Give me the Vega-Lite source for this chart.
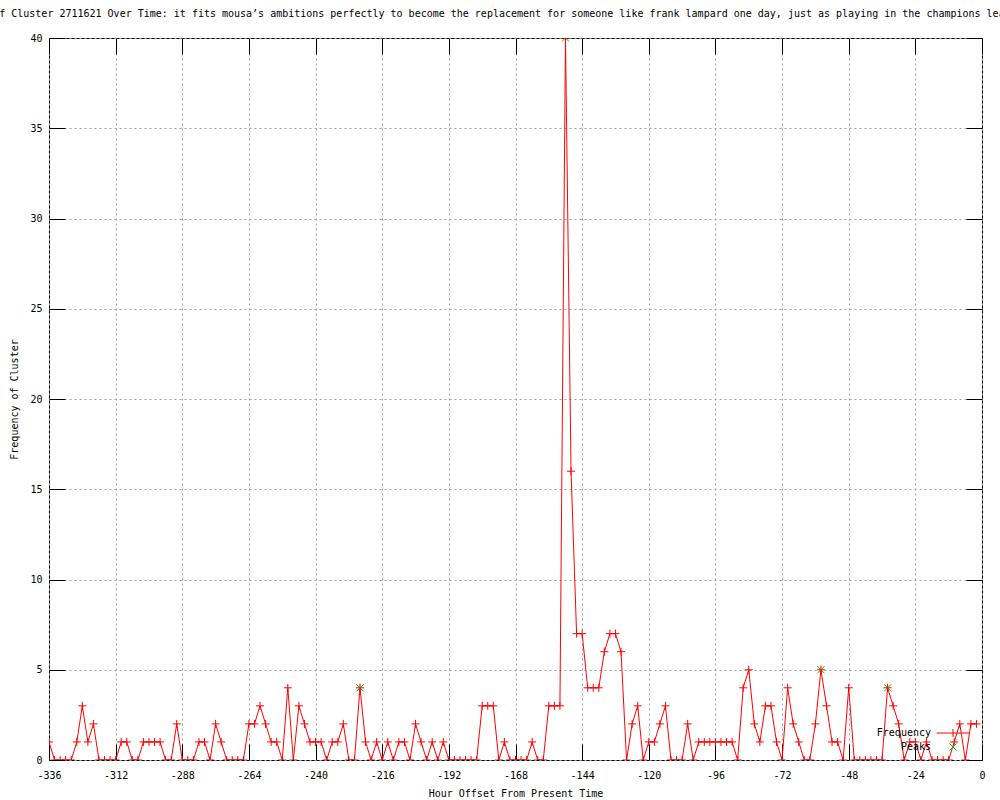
{
  "$schema": "https://vega.github.io/schema/vega-lite/v6.json",
  "width": 933,
  "height": 722,
  "autosize": {"type": "none"},
  "padding": {"left": 49, "top": 38, "right": 18, "bottom": 40},
  "background": "white",
  "title": {
    "text": "Frequency of Cluster 2711621 Over Time: it fits mousa’s ambitions perfectly to become the replacement for someone like frank lampard one day, just as playing in the champions league",
    "anchor": "start", "frame": "group", "dx": -116, "offset": 14,
    "font": "DejaVu Sans Mono", "fontSize": 10, "fontWeight": "normal", "color": "black"
  },
  "config": {
    "view": {"stroke": "black", "strokeWidth": 1},
    "font": "DejaVu Sans Mono",
    "axis": {
      "labelFont": "DejaVu Sans Mono", "labelFontSize": 10, "labelColor": "black",
      "titleFont": "DejaVu Sans Mono", "titleFontSize": 10, "titleFontWeight": "normal", "titleColor": "black",
      "gridColor": "#a0a0a0", "gridDash": [2, 3], "gridWidth": 1, "gridOpacity": 1,
      "tickColor": "black", "tickWidth": 1, "domain": false
    }
  },
  "data": {
    "values": [
      {"hour": -336, "frequency": 1, "series": "Frequency"},
      {"hour": -334, "frequency": 0, "series": "Frequency"},
      {"hour": -332, "frequency": 0, "series": "Frequency"},
      {"hour": -330, "frequency": 0, "series": "Frequency"},
      {"hour": -328, "frequency": 0, "series": "Frequency"},
      {"hour": -326, "frequency": 1, "series": "Frequency"},
      {"hour": -324, "frequency": 3, "series": "Frequency"},
      {"hour": -322, "frequency": 1, "series": "Frequency"},
      {"hour": -320, "frequency": 2, "series": "Frequency"},
      {"hour": -318, "frequency": 0, "series": "Frequency"},
      {"hour": -316, "frequency": 0, "series": "Frequency"},
      {"hour": -314, "frequency": 0, "series": "Frequency"},
      {"hour": -312, "frequency": 0, "series": "Frequency"},
      {"hour": -310, "frequency": 1, "series": "Frequency"},
      {"hour": -308, "frequency": 1, "series": "Frequency"},
      {"hour": -306, "frequency": 0, "series": "Frequency"},
      {"hour": -304, "frequency": 0, "series": "Frequency"},
      {"hour": -302, "frequency": 1, "series": "Frequency"},
      {"hour": -300, "frequency": 1, "series": "Frequency"},
      {"hour": -298, "frequency": 1, "series": "Frequency"},
      {"hour": -296, "frequency": 1, "series": "Frequency"},
      {"hour": -294, "frequency": 0, "series": "Frequency"},
      {"hour": -292, "frequency": 0, "series": "Frequency"},
      {"hour": -290, "frequency": 2, "series": "Frequency"},
      {"hour": -288, "frequency": 0, "series": "Frequency"},
      {"hour": -286, "frequency": 0, "series": "Frequency"},
      {"hour": -284, "frequency": 0, "series": "Frequency"},
      {"hour": -282, "frequency": 1, "series": "Frequency"},
      {"hour": -280, "frequency": 1, "series": "Frequency"},
      {"hour": -278, "frequency": 0, "series": "Frequency"},
      {"hour": -276, "frequency": 2, "series": "Frequency"},
      {"hour": -274, "frequency": 1, "series": "Frequency"},
      {"hour": -272, "frequency": 0, "series": "Frequency"},
      {"hour": -270, "frequency": 0, "series": "Frequency"},
      {"hour": -268, "frequency": 0, "series": "Frequency"},
      {"hour": -266, "frequency": 0, "series": "Frequency"},
      {"hour": -264, "frequency": 2, "series": "Frequency"},
      {"hour": -262, "frequency": 2, "series": "Frequency"},
      {"hour": -260, "frequency": 3, "series": "Frequency"},
      {"hour": -258, "frequency": 2, "series": "Frequency"},
      {"hour": -256, "frequency": 1, "series": "Frequency"},
      {"hour": -254, "frequency": 1, "series": "Frequency"},
      {"hour": -252, "frequency": 0, "series": "Frequency"},
      {"hour": -250, "frequency": 4, "series": "Frequency"},
      {"hour": -248, "frequency": 0, "series": "Frequency"},
      {"hour": -246, "frequency": 3, "series": "Frequency"},
      {"hour": -244, "frequency": 2, "series": "Frequency"},
      {"hour": -242, "frequency": 1, "series": "Frequency"},
      {"hour": -240, "frequency": 1, "series": "Frequency"},
      {"hour": -238, "frequency": 1, "series": "Frequency"},
      {"hour": -236, "frequency": 0, "series": "Frequency"},
      {"hour": -234, "frequency": 1, "series": "Frequency"},
      {"hour": -232, "frequency": 1, "series": "Frequency"},
      {"hour": -230, "frequency": 2, "series": "Frequency"},
      {"hour": -228, "frequency": 0, "series": "Frequency"},
      {"hour": -226, "frequency": 0, "series": "Frequency"},
      {"hour": -224, "frequency": 4, "series": "Frequency"},
      {"hour": -222, "frequency": 1, "series": "Frequency"},
      {"hour": -220, "frequency": 0, "series": "Frequency"},
      {"hour": -218, "frequency": 1, "series": "Frequency"},
      {"hour": -216, "frequency": 0, "series": "Frequency"},
      {"hour": -214, "frequency": 1, "series": "Frequency"},
      {"hour": -212, "frequency": 0, "series": "Frequency"},
      {"hour": -210, "frequency": 1, "series": "Frequency"},
      {"hour": -208, "frequency": 1, "series": "Frequency"},
      {"hour": -206, "frequency": 0, "series": "Frequency"},
      {"hour": -204, "frequency": 2, "series": "Frequency"},
      {"hour": -202, "frequency": 1, "series": "Frequency"},
      {"hour": -200, "frequency": 0, "series": "Frequency"},
      {"hour": -198, "frequency": 1, "series": "Frequency"},
      {"hour": -196, "frequency": 0, "series": "Frequency"},
      {"hour": -194, "frequency": 1, "series": "Frequency"},
      {"hour": -192, "frequency": 0, "series": "Frequency"},
      {"hour": -190, "frequency": 0, "series": "Frequency"},
      {"hour": -188, "frequency": 0, "series": "Frequency"},
      {"hour": -186, "frequency": 0, "series": "Frequency"},
      {"hour": -184, "frequency": 0, "series": "Frequency"},
      {"hour": -182, "frequency": 0, "series": "Frequency"},
      {"hour": -180, "frequency": 3, "series": "Frequency"},
      {"hour": -178, "frequency": 3, "series": "Frequency"},
      {"hour": -176, "frequency": 3, "series": "Frequency"},
      {"hour": -174, "frequency": 0, "series": "Frequency"},
      {"hour": -172, "frequency": 1, "series": "Frequency"},
      {"hour": -170, "frequency": 0, "series": "Frequency"},
      {"hour": -168, "frequency": 0, "series": "Frequency"},
      {"hour": -166, "frequency": 0, "series": "Frequency"},
      {"hour": -164, "frequency": 0, "series": "Frequency"},
      {"hour": -162, "frequency": 1, "series": "Frequency"},
      {"hour": -160, "frequency": 0, "series": "Frequency"},
      {"hour": -158, "frequency": 0, "series": "Frequency"},
      {"hour": -156, "frequency": 3, "series": "Frequency"},
      {"hour": -154, "frequency": 3, "series": "Frequency"},
      {"hour": -152, "frequency": 3, "series": "Frequency"},
      {"hour": -150, "frequency": 40, "series": "Frequency"},
      {"hour": -148, "frequency": 16, "series": "Frequency"},
      {"hour": -146, "frequency": 7, "series": "Frequency"},
      {"hour": -144, "frequency": 7, "series": "Frequency"},
      {"hour": -142, "frequency": 4, "series": "Frequency"},
      {"hour": -140, "frequency": 4, "series": "Frequency"},
      {"hour": -138, "frequency": 4, "series": "Frequency"},
      {"hour": -136, "frequency": 6, "series": "Frequency"},
      {"hour": -134, "frequency": 7, "series": "Frequency"},
      {"hour": -132, "frequency": 7, "series": "Frequency"},
      {"hour": -130, "frequency": 6, "series": "Frequency"},
      {"hour": -128, "frequency": 0, "series": "Frequency"},
      {"hour": -126, "frequency": 2, "series": "Frequency"},
      {"hour": -124, "frequency": 3, "series": "Frequency"},
      {"hour": -122, "frequency": 0, "series": "Frequency"},
      {"hour": -120, "frequency": 1, "series": "Frequency"},
      {"hour": -118, "frequency": 1, "series": "Frequency"},
      {"hour": -116, "frequency": 2, "series": "Frequency"},
      {"hour": -114, "frequency": 3, "series": "Frequency"},
      {"hour": -112, "frequency": 0, "series": "Frequency"},
      {"hour": -110, "frequency": 0, "series": "Frequency"},
      {"hour": -108, "frequency": 0, "series": "Frequency"},
      {"hour": -106, "frequency": 2, "series": "Frequency"},
      {"hour": -104, "frequency": 0, "series": "Frequency"},
      {"hour": -102, "frequency": 1, "series": "Frequency"},
      {"hour": -100, "frequency": 1, "series": "Frequency"},
      {"hour": -98, "frequency": 1, "series": "Frequency"},
      {"hour": -96, "frequency": 1, "series": "Frequency"},
      {"hour": -94, "frequency": 1, "series": "Frequency"},
      {"hour": -92, "frequency": 1, "series": "Frequency"},
      {"hour": -90, "frequency": 1, "series": "Frequency"},
      {"hour": -88, "frequency": 0, "series": "Frequency"},
      {"hour": -86, "frequency": 4, "series": "Frequency"},
      {"hour": -84, "frequency": 5, "series": "Frequency"},
      {"hour": -82, "frequency": 2, "series": "Frequency"},
      {"hour": -80, "frequency": 1, "series": "Frequency"},
      {"hour": -78, "frequency": 3, "series": "Frequency"},
      {"hour": -76, "frequency": 3, "series": "Frequency"},
      {"hour": -74, "frequency": 1, "series": "Frequency"},
      {"hour": -72, "frequency": 0, "series": "Frequency"},
      {"hour": -70, "frequency": 4, "series": "Frequency"},
      {"hour": -68, "frequency": 2, "series": "Frequency"},
      {"hour": -66, "frequency": 1, "series": "Frequency"},
      {"hour": -64, "frequency": 0, "series": "Frequency"},
      {"hour": -62, "frequency": 0, "series": "Frequency"},
      {"hour": -60, "frequency": 2, "series": "Frequency"},
      {"hour": -58, "frequency": 5, "series": "Frequency"},
      {"hour": -56, "frequency": 3, "series": "Frequency"},
      {"hour": -54, "frequency": 1, "series": "Frequency"},
      {"hour": -52, "frequency": 1, "series": "Frequency"},
      {"hour": -50, "frequency": 0, "series": "Frequency"},
      {"hour": -48, "frequency": 4, "series": "Frequency"},
      {"hour": -46, "frequency": 0, "series": "Frequency"},
      {"hour": -44, "frequency": 0, "series": "Frequency"},
      {"hour": -42, "frequency": 0, "series": "Frequency"},
      {"hour": -40, "frequency": 0, "series": "Frequency"},
      {"hour": -38, "frequency": 0, "series": "Frequency"},
      {"hour": -36, "frequency": 0, "series": "Frequency"},
      {"hour": -34, "frequency": 4, "series": "Frequency"},
      {"hour": -32, "frequency": 3, "series": "Frequency"},
      {"hour": -30, "frequency": 2, "series": "Frequency"},
      {"hour": -28, "frequency": 0, "series": "Frequency"},
      {"hour": -26, "frequency": 1, "series": "Frequency"},
      {"hour": -24, "frequency": 1, "series": "Frequency"},
      {"hour": -22, "frequency": 0, "series": "Frequency"},
      {"hour": -20, "frequency": 1, "series": "Frequency"},
      {"hour": -18, "frequency": 0, "series": "Frequency"},
      {"hour": -16, "frequency": 0, "series": "Frequency"},
      {"hour": -14, "frequency": 0, "series": "Frequency"},
      {"hour": -12, "frequency": 0, "series": "Frequency"},
      {"hour": -10, "frequency": 1, "series": "Frequency"},
      {"hour": -8, "frequency": 2, "series": "Frequency"},
      {"hour": -6, "frequency": 0, "series": "Frequency"},
      {"hour": -4, "frequency": 2, "series": "Frequency"},
      {"hour": -2, "frequency": 2, "series": "Frequency"},
      {"hour": -224, "frequency": 4, "series": "Peaks"},
      {"hour": -150, "frequency": 40, "series": "Peaks"},
      {"hour": -58, "frequency": 5, "series": "Peaks"},
      {"hour": -34, "frequency": 4, "series": "Peaks"}
    ]
  },
  "resolve": {"axis": {"x": "independent", "y": "independent"}},
  "layer": [
    {
      "transform": [{"filter": "datum.series === 'Frequency'"}],
      "mark": {"type": "line", "strokeWidth": 1, "clip": true},
      "encoding": {
        "x": {
          "field": "hour", "type": "quantitative",
          "scale": {"domain": [-336, 0], "nice": false, "zero": false},
          "axis": {
            "orient": "bottom",
            "values": [-336, -312, -288, -264, -240, -216, -192, -168, -144, -120, -96, -72, -48, -24, 0],
            "grid": true, "ticks": true, "tickSize": -16, "labelPadding": 26, "labelFlush": false,
            "labelExpr": "datum.value < 0 ? '-' + abs(datum.value) : '' + datum.value",
            "title": "Hour Offset From Present Time", "titlePadding": 8
          }
        },
        "y": {
          "field": "frequency", "type": "quantitative",
          "scale": {"domain": [0, 40], "nice": false},
          "axis": {
            "orient": "left",
            "values": [0, 5, 10, 15, 20, 25, 30, 35, 40],
            "grid": true, "ticks": true, "tickSize": -16, "labelPadding": 23, "labelFlush": false,
            "title": "Frequency of Cluster", "titlePadding": 10
          }
        },
        "color": {
          "field": "series", "type": "nominal",
          "scale": {"domain": ["Frequency", "Peaks"], "range": ["#ff0000", "#00c000"]},
          "legend": {
            "title": null, "orient": "none", "legendX": 899, "legendY": 690,
            "padding": 0, "rowPadding": 2, "symbolSize": 64, "symbolStrokeWidth": 1,
            "labelAlign": "right", "labelOffset": -27, "labelFont": "DejaVu Sans Mono", "labelFontSize": 10, "labelColor": "black",
            "encode": {
              "symbols": {
                "update": {
                  "shape": {"signal": "datum.value === 'Frequency' ? 'M-4.1,0H4.1M0,-1V1' : 'M-0.9,-0.9L0.9,0.9M-0.9,0.9L0.9,-0.9'"},
                  "size": {"value": 64},
                  "stroke": {"signal": "datum.value === 'Frequency' ? '#ff0000' : '#00c000'"},
                  "fill": {"value": "transparent"},
                  "strokeWidth": {"value": 1},
                  "opacity": {"value": 1}
                }
              }
            }
          }
        }
      }
    },
    {
      "transform": [{"filter": "datum.series === 'Peaks'"}],
      "mark": {"type": "point", "shape": "M-1,-1L1,1M-1,1L1,-1", "filled": false, "size": 49, "strokeWidth": 1, "opacity": 1, "clip": true},
      "encoding": {
        "x": {
          "field": "hour", "type": "quantitative",
          "axis": {"orient": "top", "values": [-336, -312, -288, -264, -240, -216, -192, -168, -144, -120, -96, -72, -48, -24, 0], "labels": false, "grid": false, "ticks": true, "tickSize": -16, "title": null}
        },
        "y": {
          "field": "frequency", "type": "quantitative",
          "axis": {"orient": "right", "values": [0, 5, 10, 15, 20, 25, 30, 35, 40], "labels": false, "grid": false, "ticks": true, "tickSize": -16, "title": null}
        },
        "color": {"field": "series", "type": "nominal"}
      }
    },
    {
      "transform": [{"filter": "datum.series === 'Frequency'"}],
      "mark": {"type": "point", "shape": "M-1,0H1M0,-1V1", "filled": false, "size": 64, "strokeWidth": 1, "opacity": 1, "clip": true},
      "encoding": {
        "x": {"field": "hour", "type": "quantitative", "axis": null},
        "y": {"field": "frequency", "type": "quantitative", "axis": null},
        "color": {"field": "series", "type": "nominal"}
      }
    }
  ]
}
